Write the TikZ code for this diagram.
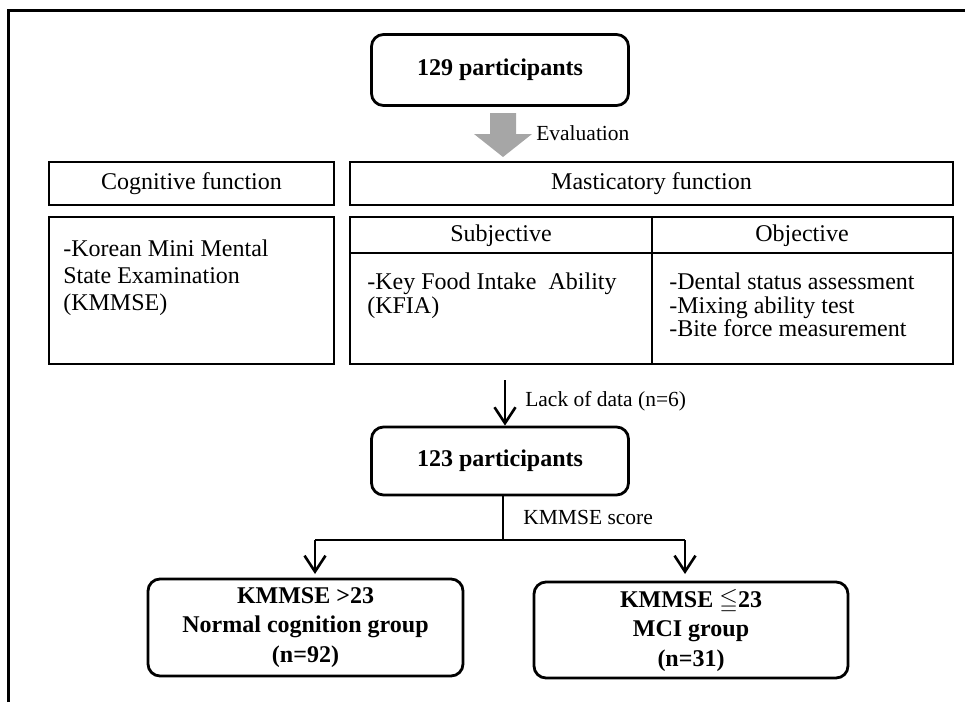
\documentclass[tikz,border=0pt]{standalone}
\usepackage{fontspec}
\setmainfont{Liberation Serif}
\usepackage{amssymb}
\usetikzlibrary{arrows.meta,positioning}
\definecolor{evalgray}{RGB}{166,166,166}

\begin{document}
\begin{tikzpicture}[x=1pt, y=-1pt, line width=2.6pt, >={Straight Barb[length=16pt,width=21pt]}]

\tikzstyle{stage}=[draw, rounded corners=12pt, line width=2.8pt, font=\fontsize{24}{29.5}\selectfont\bfseries, align=center, inner sep=0pt]
\tikzstyle{cell}=[draw, line width=2.8pt, font=\fontsize{24}{28}\selectfont, inner sep=0pt]
\tikzstyle{colhead}=[font=\fontsize{24}{28}\selectfont, inner sep=0pt]
\tikzstyle{note}=[font=\fontsize{21.5}{25}\selectfont, inner sep=0pt, anchor=west]
\tikzstyle{item}=[font=\fontsize{24}{27}\selectfont, inner sep=0pt, anchor=west, align=left]

\useasboundingbox (0,0) rectangle (965,702);

% frame
\draw[line width=3pt] (8,702) -- (8,10) -- (965,10);

\node[stage, minimum width=257pt, minimum height=71pt] (P129) at (500,70) {129 participants};

% evaluation arrow
\fill[evalgray] (490,113) -- (516,113) -- (516,134) -- (532,134) -- (503,157) -- (474,134) -- (490,134) -- cycle;
\node[note] (Eval) at (535,133) {Evaluation};

\node[cell, minimum width=285pt, minimum height=43pt] (CogHead) at (191.5,183.5) {Cognitive function};
\node[cell, minimum width=603pt, minimum height=43pt] (MastHead) at (651.5,183.5) {Masticatory function};
\node[cell, minimum width=285pt, minimum height=147pt] (CogBody) at (191.5,290.5) {};
\node[cell, minimum width=603pt, minimum height=147pt] (MastBody) at (651.5,290.5) {};

\coordinate (DivTop) at (652,217);
\coordinate (DivBot) at (652,364);
\coordinate (RowL) at (350,253);
\coordinate (RowR) at (953,253);
\draw[line width=2.8pt] (DivTop) -- (DivBot);
\draw[line width=2.8pt] (RowL) -- (RowR);

\node[colhead] (Subj) at (501,236) {Subjective};
\node[colhead] (Obj) at (802,236) {Objective};
\node[item] (KmmseTxt) at (62,278) {-Korean Mini Mental\\State Examination\\(KMMSE)};
\node[item, font=\fontsize{24}{24}\selectfont] (KfiaTxt) at (366,296) {-Key Food Intake\ \ Ability\\(KFIA)};
\node[item, font=\fontsize{24}{23.5}\selectfont] (ObjTxt) at (668,305) {-Dental status assessment\\-Mixing ability test\\-Bite force measurement};

% exclusion
\node[stage, minimum width=257pt, minimum height=68pt] (P123) at (500,461) {123 participants};
\coordinate (LackTop) at (505,380);
\draw[->] (LackTop) -- (LackTop |- P123.north);
\node[note] (Lack) at (524,401) {Lack of data (n=6)};

% groups
\node[stage, minimum width=315pt, minimum height=97pt] (Normal) at (305.5,627.5) {KMMSE >23\\Normal cognition group\\(n=92)};
\node[stage, minimum width=314pt, minimum height=96pt] (MCI) at (691,630) {KMMSE $\leqq$23\\MCI group\\(n=31)};

\coordinate (Fork) at (503,540);
\coordinate (ForkL) at (315,540);
\coordinate (ForkR) at (685,540);
\coordinate (TipL) at (315,574);
\coordinate (TipR) at (685,574);
\draw (P123.south -| Fork) -- (Fork);
\draw (ForkL) -- (ForkR);
\draw[->] (ForkL) -- (TipL);
\draw[->] (ForkR) -- (TipR);
\node[note] (Score) at (522,517) {KMMSE score};

\end{tikzpicture}
\end{document}
